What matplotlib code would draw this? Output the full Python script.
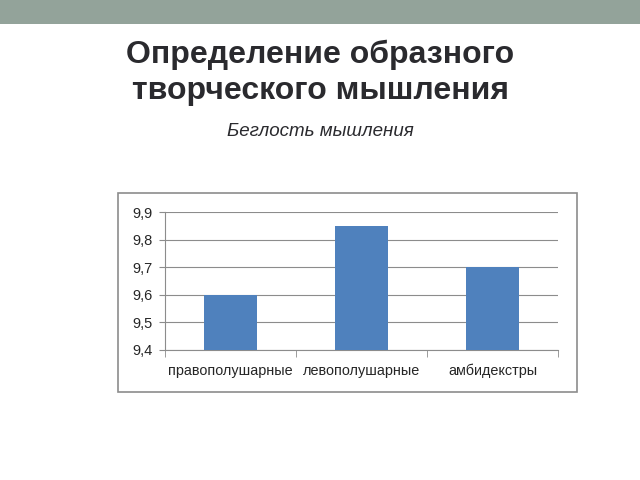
import matplotlib.pyplot as plt
from matplotlib.patches import Rectangle

categories = ["правополушарные", "левополушарные", "амбидекстры"]
values = [9.6, 9.85, 9.7]
y_ticks = [9.4, 9.5, 9.6, 9.7, 9.8, 9.9]
y_labels = ["9,4", "9,5", "9,6", "9,7", "9,8", "9,9"]

plt.rcParams["font.family"] = ["Liberation Sans", "DejaVu Sans"]

fig = plt.figure(figsize=(6.4, 4.8), dpi=100)

# top band of the slide
fig.patches.append(Rectangle((0, 0.95), 1, 0.05, transform=fig.transFigure,
                             facecolor="#93a39a", edgecolor="none", zorder=0))
fig.text(0.5, 1 - 55 / 480, "Определение образного", ha="center", va="center",
         fontsize=23, fontweight="bold", color="#2a2a2e")
fig.text(0.5, 1 - 91 / 480, "творческого мышления", ha="center", va="center",
         fontsize=23, fontweight="bold", color="#2a2a2e")
fig.text(0.5, 1 - 131 / 480, "Беглость мышления", ha="center", va="center",
         fontsize=13.5, style="italic", color="#2a2a2e")

# chart frame
fig.patches.append(Rectangle((0.184, 0.183), 0.717, 0.415, transform=fig.transFigure,
                             facecolor="white", edgecolor="#8c8c8c", linewidth=1.2,
                             zorder=0))

ax = fig.add_axes([0.258, 0.271, 0.614, 0.287])
ax.set_zorder(2)
ax.patch.set_alpha(0)
x = range(len(categories))
ax.bar(x, [v - 9.4 for v in values], bottom=9.4, width=0.4, color="#4f81bd", zorder=3)

ax.set_xlim(-0.5, 2.5)
ax.set_ylim(9.4, 9.9)
ax.set_yticks(y_ticks)
ax.set_yticklabels(y_labels, fontsize=10.5, color="#262626")
ax.yaxis.grid(True, color="#8c8c8c", linewidth=0.8, zorder=0)
ax.tick_params(axis="y", length=4, color="#8c8c8c", pad=5)

ax.set_xticks(list(x))
ax.set_xticklabels(categories, fontsize=10.4, color="#262626")
ax.tick_params(axis="x", which="major", length=0, pad=10)
ax.set_xticks([-0.5, 0.5, 1.5, 2.5], minor=True)
ax.tick_params(axis="x", which="minor", length=5, color="#8c8c8c")

for s in ["top", "right"]:
    ax.spines[s].set_visible(False)
ax.spines["left"].set_color("#8c8c8c")
ax.spines["bottom"].set_color("#8c8c8c")

fig.savefig("out.png", dpi=100)
